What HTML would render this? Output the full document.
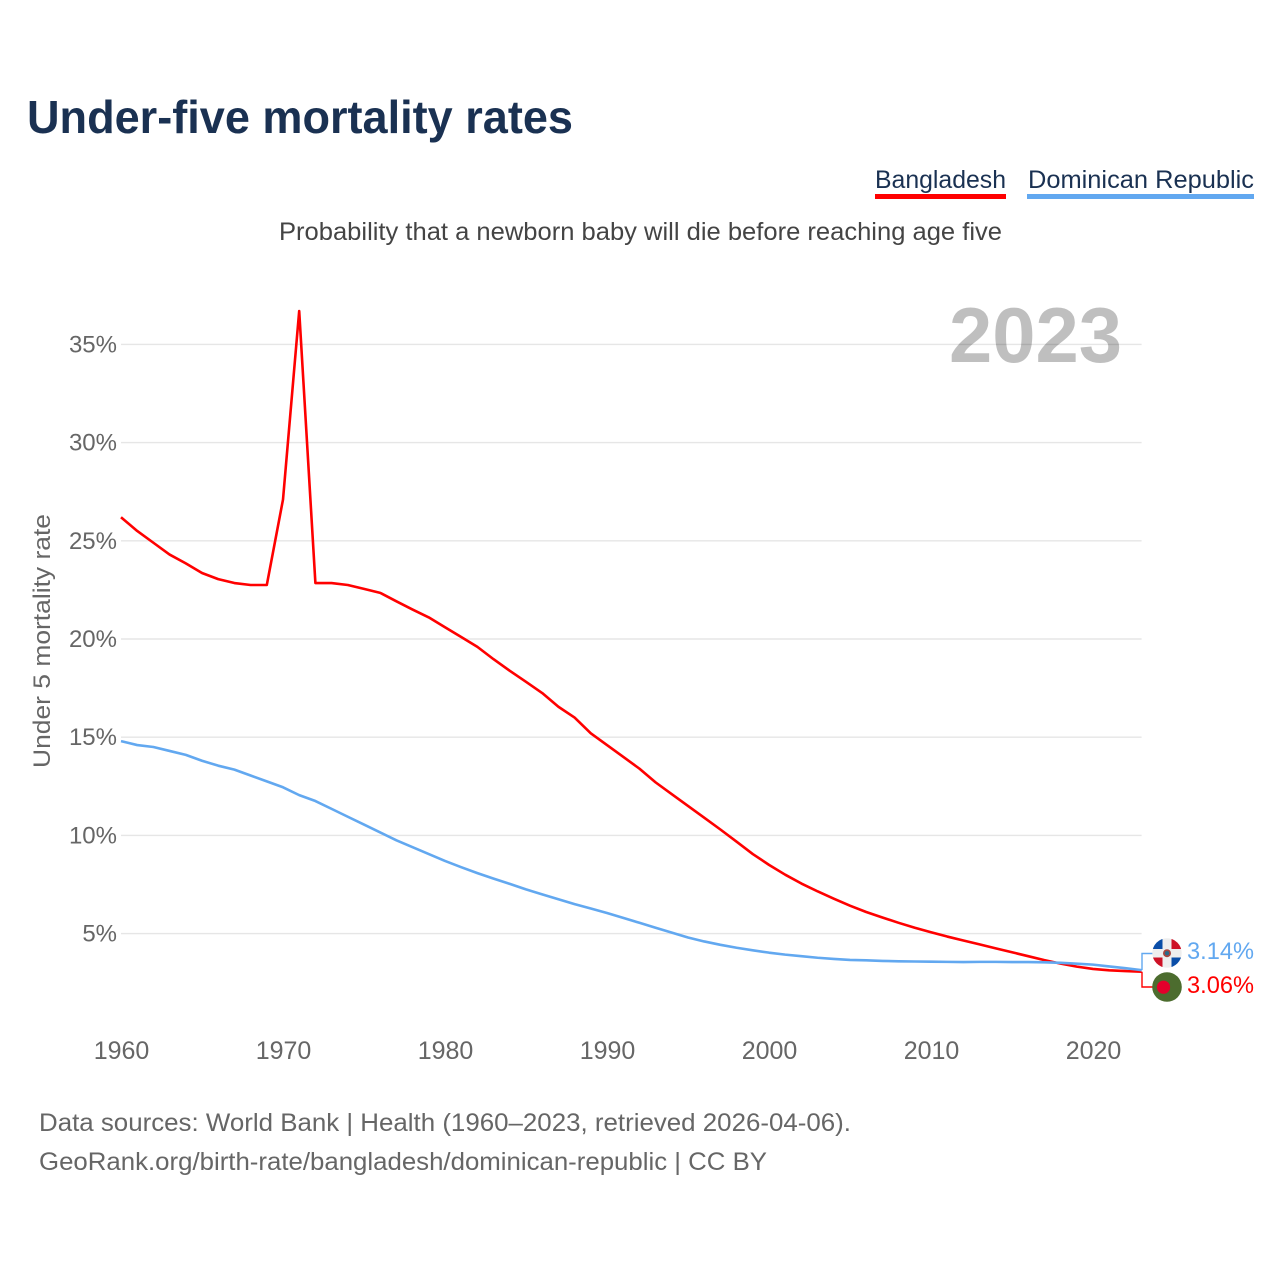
<!DOCTYPE html>
<html lang="en">
<head>
<meta charset="utf-8">
<title>Under-five mortality rates</title>
<style>
html,body{margin:0;padding:0;background:#fff;width:1280px;height:1280px;overflow:hidden}
svg{display:block}
text{font-family:"Liberation Sans",sans-serif}
</style>
</head>
<body>
<svg id="chart" xmlns="http://www.w3.org/2000/svg" width="1280" height="1280" viewBox="0 0 1280 1280">
  <rect x="0" y="0" width="1280" height="1280" fill="#fff"/>
  <text x="27" y="133" font-size="46" font-weight="700" fill="#1a3152" textLength="546" lengthAdjust="spacingAndGlyphs">Under-five mortality rates</text>
  <g>
    <g>
      <text x="875" y="188" font-size="25" fill="#1a3152" textLength="131" lengthAdjust="spacingAndGlyphs">Bangladesh</text>
      <rect x="875" y="194" width="131" height="5" fill="#ff0000"/>
    </g>
    <g>
      <text x="1028" y="188" font-size="25" fill="#1a3152" textLength="226" lengthAdjust="spacingAndGlyphs">Dominican Republic</text>
      <rect x="1027" y="194" width="227" height="5" fill="#62a8f0"/>
    </g>
  </g>
  <text x="279" y="240" font-size="25" fill="#444" textLength="723" lengthAdjust="spacingAndGlyphs">Probability that a newborn baby will die before reaching age five</text>
  <g id="grid"></g>
  <g id="yticks"></g>
  <g id="xticks"></g>
  <text x="949" y="362" font-size="78" font-weight="700" fill="#000" fill-opacity="0.25" textLength="173" lengthAdjust="spacingAndGlyphs">2023</text>
  <text transform="translate(50,768) rotate(-90)" x="0" y="0" font-size="24" fill="#666" textLength="254" lengthAdjust="spacingAndGlyphs">Under 5 mortality rate</text>
  <g id="series"></g>
  <g id="connectors"></g>
  <g>
    <clipPath id="clipDo"><circle cx="1167" cy="953" r="14.7"/></clipPath>
    <g clip-path="url(#clipDo)">
      <rect x="1152" y="938" width="30" height="30" fill="#eeeeee"/>
      <rect x="1152" y="938" width="10.5" height="11" fill="#0a4ea8"/>
      <rect x="1171.5" y="938" width="10.5" height="11" fill="#ce1126"/>
      <rect x="1152" y="957.5" width="10.5" height="11" fill="#ce1126"/>
      <rect x="1171.5" y="957.5" width="10.5" height="11" fill="#0a4ea8"/>
      <circle cx="1167" cy="953.2" r="4" fill="#a8453f"/>
      <circle cx="1167" cy="953.2" r="2.2" fill="#2a6a8a"/>
    </g>
  </g>
  <g>
    <circle cx="1167" cy="987" r="14.8" fill="#4c6c2e"/>
    <circle cx="1163.5" cy="987.2" r="6.6" fill="#e4002b"/>
  </g>
  <text id="labelBd" x="1187" y="993" font-size="24" fill="#ff0000" textLength="67" lengthAdjust="spacingAndGlyphs"></text>
  <text id="labelDo" x="1187" y="959" font-size="24" fill="#62a8f0" textLength="67" lengthAdjust="spacingAndGlyphs"></text>
  <text x="39" y="1131" font-size="25" fill="#666" textLength="812" lengthAdjust="spacingAndGlyphs">Data sources: World Bank | Health (1960–2023, retrieved 2026-04-06).</text>
  <text x="39" y="1170" font-size="25" fill="#666" textLength="728" lengthAdjust="spacingAndGlyphs">GeoRank.org/birth-rate/bangladesh/dominican-republic | CC BY</text>
</svg>
<script>
const startYear = 1960;
const xTickYears = [1960, 1970, 1980, 1990, 2000, 2010, 2020];
const yTickValues = [5, 10, 15, 20, 25, 30, 35];
const bangladesh = [26.2,25.5,24.9,24.3,23.85,23.36,23.05,22.85,22.75,22.75,27.1,36.7,22.85,22.85,22.75,22.55,22.35,21.92,21.5,21.1,20.6,20.1,19.6,18.97,18.38,17.82,17.25,16.55,16.0,15.2,14.6,14.0,13.4,12.7,12.1,11.5,10.9,10.3,9.68,9.05,8.5,8.0,7.55,7.15,6.78,6.42,6.1,5.82,5.55,5.3,5.07,4.85,4.65,4.45,4.25,4.05,3.85,3.65,3.47,3.32,3.2,3.13,3.09,3.06];
const dominicanRepublic = [14.8,14.6,14.5,14.3,14.1,13.8,13.55,13.35,13.05,12.75,12.45,12.05,11.75,11.35,10.95,10.55,10.15,9.75,9.4,9.05,8.7,8.38,8.08,7.8,7.53,7.25,7.0,6.75,6.5,6.28,6.05,5.8,5.55,5.3,5.05,4.8,4.6,4.43,4.28,4.15,4.03,3.93,3.85,3.77,3.71,3.66,3.64,3.61,3.59,3.58,3.57,3.56,3.55,3.56,3.56,3.55,3.55,3.54,3.51,3.47,3.42,3.33,3.24,3.14];

const SVG_NS = 'http://www.w3.org/2000/svg';
const xScale = year => 121 + (year - startYear) * 16.2;
const yScale = v => 933.6 - (v - 5) * 19.64;
const grid = document.getElementById('grid');
const yticks = document.getElementById('yticks');
const xticks = document.getElementById('xticks');
const series = document.getElementById('series');
const connectors = document.getElementById('connectors');

yTickValues.forEach(v => {
  const line = document.createElementNS(SVG_NS, 'line');
  
  
  line.setAttribute('x1', 121);
  line.setAttribute('x2', 1141.6);
  line.setAttribute('y1', yScale(v));
  line.setAttribute('y2', yScale(v));
  line.setAttribute('stroke', '#e6e6e6');
  line.setAttribute('stroke-width', 1.4);
  grid.appendChild(line);
  const t = document.createElementNS(SVG_NS, 'text');
  
  
  t.setAttribute('x', 117);
  t.setAttribute('y', yScale(v) + 8);
  t.setAttribute('text-anchor', 'end');
  t.setAttribute('font-size', 24);
  t.setAttribute('fill', '#666');
  t.textContent = v + '%';
  yticks.appendChild(t);
});

xTickYears.forEach(y => {
  const t = document.createElementNS(SVG_NS, 'text');
  
  
  t.setAttribute('x', xScale(y) + 0.5);
  t.setAttribute('y', 1059);
  t.setAttribute('text-anchor', 'middle');
  t.setAttribute('font-size', 25);
  t.setAttribute('fill', '#666');
  t.textContent = String(y);
  xticks.appendChild(t);
});

function drawLine(values, color, name) {
  const p = document.createElementNS(SVG_NS, 'polyline');
  
  
  p.setAttribute('fill', 'none');
  p.setAttribute('stroke', color);
  p.setAttribute('stroke-width', 2.6);
  p.setAttribute('stroke-linejoin', 'round');
  p.setAttribute('points', values.map((v, i) => xScale(startYear + i).toFixed(2) + ',' + yScale(v).toFixed(2)).join(' '));
  series.appendChild(p);
}
drawLine(bangladesh, '#ff0000', 'line-bangladesh');
drawLine(dominicanRepublic, '#62a8f0', 'line-dominican-republic');

function drawConnector(values, labelY, color, name) {
  const p = document.createElementNS(SVG_NS, 'polyline');
  
  
  p.setAttribute('fill', 'none');
  p.setAttribute('stroke', color);
  p.setAttribute('stroke-width', 1.4);
  const ex = xScale(startYear + values.length - 1) + 0.4;
  const ey = yScale(values[values.length - 1]);
  p.setAttribute('points', ex + ',' + ey + ' ' + ex + ',' + labelY + ' 1153,' + labelY);
  connectors.appendChild(p);
}
drawConnector(bangladesh, 987, '#ff0000', 'connector-bangladesh');
drawConnector(dominicanRepublic, 953.5, '#62a8f0', 'connector-dominican-republic');

document.getElementById('labelBd').textContent = bangladesh[bangladesh.length - 1].toFixed(2) + '%';
document.getElementById('labelDo').textContent = dominicanRepublic[dominicanRepublic.length - 1].toFixed(2) + '%';
</script>
</body>
</html>
